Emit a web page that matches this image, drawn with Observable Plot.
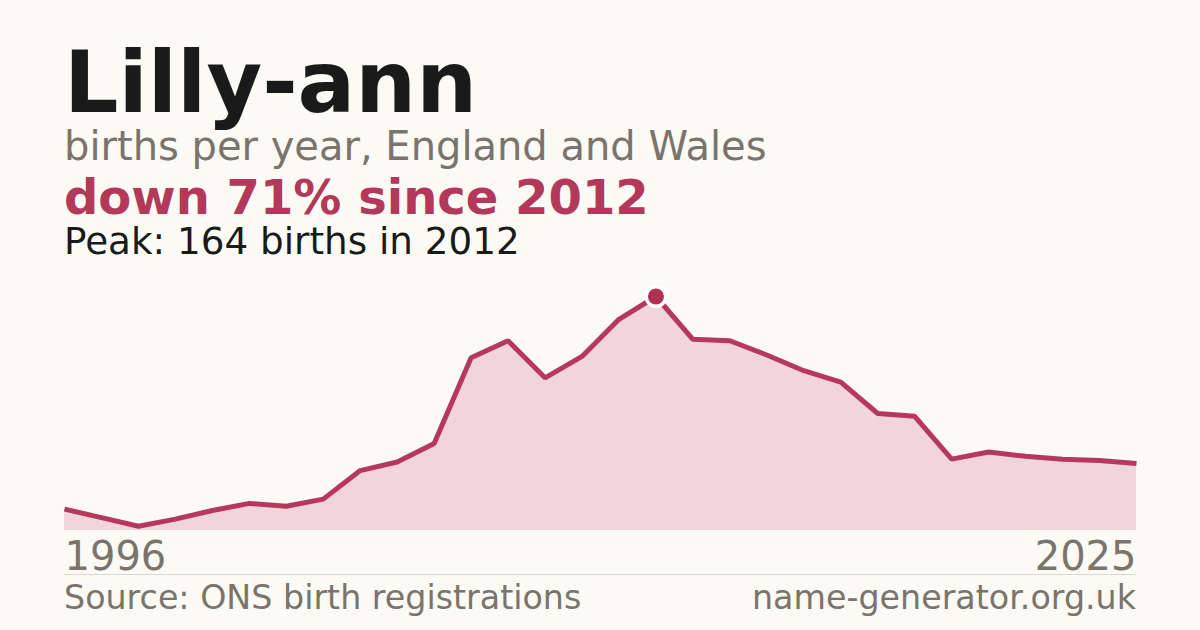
<!DOCTYPE html>
<html>
<head>
<meta charset="utf-8">
<script src="https://cdn.jsdelivr.net/npm/d3@7"></script>
<script src="https://cdn.jsdelivr.net/npm/@observablehq/plot@0.6"></script>
<style>
  html, body { margin: 0; padding: 0; }
  body { width: 1200px; height: 630px; background: #fbfaf5; position: relative; overflow: hidden; font-family: "DejaVu Sans", sans-serif; }
  .t { position: absolute; left: 64px; line-height: 0.85; white-space: nowrap; }
  #title { top: 47px; font-size: 85.5px; font-weight: bold; color: #1a1a1a; }
  #sub { top: 129.2px; font-size: 40px; color: #7a746c; }
  #change { top: 177px; font-size: 48px; font-weight: bold; color: #b3385a; }
  #peak { top: 226.2px; font-size: 37.3px; color: #1a1a1a; }
  #chart { position: absolute; left: 0; top: 270px; }
  #rule { position: absolute; left: 64px; width: 1072px; top: 573.5px; height: 1px; background: #dcd8d0; }
  .foot { position: absolute; top: 584.4px; font-size: 33.3px; line-height: 0.85; color: #7a746c; white-space: nowrap; }
  #src { left: 64px; }
  #site { right: 64px; }
</style>
</head>
<body>
<div class="t" id="title">Lilly-ann</div>
<div class="t" id="sub">births per year, England and Wales</div>
<div class="t" id="change">down 71% since 2012</div>
<div class="t" id="peak">Peak: 164 births in 2012</div>
<div id="chart"></div>
<div id="rule"></div>
<div class="foot" id="src">Source: ONS birth registrations</div>
<div class="foot" id="site">name-generator.org.uk</div>
<script>
const years = [1996, 1997, 1998, 1999, 2000, 2001, 2002, 2003, 2004, 2005,
               2006, 2007, 2008, 2009, 2010, 2011, 2012, 2013, 2014, 2015,
               2016, 2017, 2018, 2019, 2020, 2021, 2022, 2023, 2024, 2025];
const births = [15, 9, 3, 8, 14, 19, 17, 22, 42, 48,
                61, 121, 133, 107, 122, 148, 164, 134, 133, 123,
                112, 104, 82, 80, 50, 55, 52, 50, 49, 47];
const peakYear = 2012;
const firstTick = [1996];
const lastTick = [2025];

const data = years.map((year, i) => ({year, births: births[i]}));
const peak = data.filter(d => d.year === peakYear);

const chart = Plot.plot({
  width: 1200,
  height: 305,
  marginLeft: 64,
  marginRight: 64,
  marginTop: 26,
  marginBottom: 45,
  style: {background: "transparent", fontFamily: "DejaVu Sans, sans-serif", overflow: "visible"},
  x: {domain: [1996, 2025], axis: null},
  y: {domain: [0, 164], axis: null},
  marks: [
    Plot.areaY(data, {x: "year", y: "births", fill: "#f2d5da"}),
    Plot.lineY(data, {x: "year", y: "births", stroke: "#b6395c", strokeWidth: 5, strokeLinecap: "butt", strokeLinejoin: "miter"}),
    Plot.dot(peak, {x: "year", y: "births", r: 11.5, fill: "white", stroke: "none"}),
    Plot.dot(peak, {x: "year", y: "births", r: 8, fill: "#b0304f", stroke: "none"}),
    Plot.text(firstTick, {x: d => d, frameAnchor: "bottom", textAnchor: "start", lineAnchor: "top", dy: 11, text: d => String(d), fontSize: 40, fill: "#7a746c"}),
    Plot.text(lastTick, {x: d => d, frameAnchor: "bottom", textAnchor: "end", lineAnchor: "top", dy: 11, text: d => String(d), fontSize: 40, fill: "#7a746c"})
  ]
});
document.getElementById("chart").appendChild(chart);
</script>
</body>
</html>
